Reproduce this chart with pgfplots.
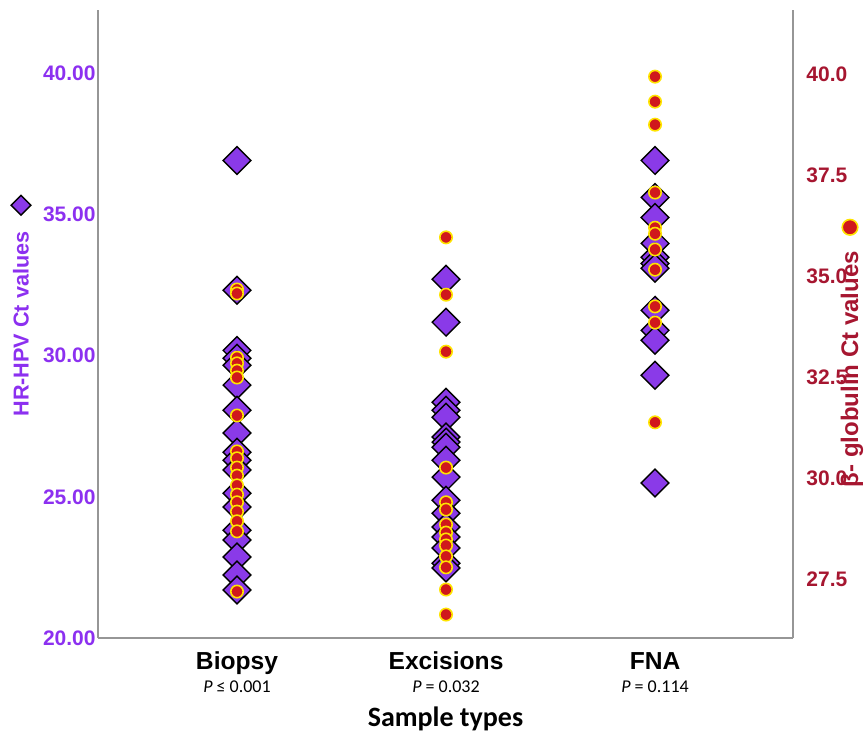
\documentclass[border=0pt]{standalone}
\usepackage{pgfplots}
\pgfplotsset{compat=1.18}
\usepackage{fontspec}
\setmainfont{Liberation Sans}
\newfontfamily\carlito{Carlito}

\definecolor{hpv}{RGB}{138,58,232}
\definecolor{hpvtxt}{RGB}{140,48,240}
\definecolor{glob}{RGB}{166,22,48}
\definecolor{dotred}{RGB}{208,24,28}
\definecolor{dotyel}{RGB}{255,228,0}
\definecolor{axgray}{RGB}{150,150,150}

\pgfplotsset{
  common/.style={
    at={(0,0)}, anchor=south west,
    scale only axis, width=347.5bp, height=314bp,
    xmin=0.335, xmax=3.66, clip=false,
    major tick length=0pt,
    axis line style={axgray, line width=0.6bp, -},
    legend style={draw=none, fill=none, inner sep=0pt, nodes={inner sep=0pt}},
  },
}

\begin{document}
\begin{tikzpicture}
\useasboundingbox (-49bp,-49bp) rectangle (383bp,319bp);

% HR-HPV (left axis)
\begin{axis}[common,
  ymin=20, ymax=42.25,
  axis x line*=bottom, axis y line*=left,
  xtick=\empty, ytick={20,25,30,35,40},
  yticklabel style={font=\fontsize{10.5bp}{12bp}\selectfont\bfseries, text=hpvtxt, inner xsep=1bp,
    /pgf/number format/fixed, /pgf/number format/fixed zerofill,
    /pgf/number format/precision=2, /pgf/number format/assume math mode=true},
  legend style={at={(0,0.689)}, anchor=center, xshift=-38bp},
  legend image code/.code={\draw[#1, mark size=3.5bp] plot coordinates {(0bp,0bp)};},
]
\addplot[only marks, mark=square*, mark size=4.9bp,
  mark options={rotate=45, fill=hpv, draw=black, line width=0.7bp}] coordinates {
  (1,36.92) (1,32.32) (1,30.19) (1,29.91) (1,29.66) (1,28.96) (1,28.07) (1,27.26)
  (1,26.58) (1,26.30) (1,25.95) (1,25.13) (1,24.64) (1,23.82) (1,23.47) (1,22.87)
  (1,22.23) (1,21.70)
  (2,32.71) (2,31.19) (2,28.35) (2,28.07) (2,27.82) (2,27.12) (2,26.94) (2,26.76)
  (2,26.30) (2,25.70) (2,24.88) (2,24.42) (2,23.93) (2,23.58) (2,23.19) (2,22.65)
  (2,22.48)
  (3,36.92) (3,35.61) (3,34.90) (3,33.98) (3,33.49) (3,33.27) (3,33.10) (3,31.61)
  (3,30.90) (3,30.55) (3,29.31) (3,25.49)
};
\addlegendentry{}

\node[xshift=-38.5bp, rotate=90, text=hpvtxt, font=\fontsize{10.8bp}{12bp}\selectfont\bfseries]
  at (rel axis cs:0,0.5) {HR-HPV Ct values};

\node[anchor=base, font=\fontsize{12.3bp}{14bp}\selectfont\bfseries] at (axis cs:1,20) [yshift=-15.5bp] {Biopsy};
\node[anchor=base, font=\fontsize{12.3bp}{14bp}\selectfont\bfseries] at (axis cs:2,20) [yshift=-15.5bp] {Excisions};
\node[anchor=base, font=\fontsize{12.3bp}{14bp}\selectfont\bfseries] at (axis cs:3,20) [yshift=-15.5bp] {FNA};
\node[anchor=base, font=\fontsize{9bp}{10bp}\carlito] at (axis cs:1,20) [yshift=-27bp] {\textit{P} ≤ 0.001};
\node[anchor=base, font=\fontsize{9bp}{10bp}\carlito] at (axis cs:2,20) [yshift=-27bp] {\textit{P} = 0.032};
\node[anchor=base, font=\fontsize{9bp}{10bp}\carlito] at (axis cs:3,20) [yshift=-27bp] {\textit{P} = 0.114};
\node[anchor=base, font=\fontsize{14bp}{16bp}\carlito\bfseries] at (rel axis cs:0.5,0) [yshift=-44bp] {Sample types};
\end{axis}

% beta-globulin (right axis)
\begin{axis}[common,
  ymin=26.05, ymax=41.6,
  axis x line=none, axis y line*=right,
  ytick={27.5,30,32.5,35,37.5,40},
  yticklabel style={font=\fontsize{10.5bp}{12bp}\selectfont\bfseries, text=glob, inner xsep=0pt, xshift=6.5bp,
    /pgf/number format/fixed, /pgf/number format/fixed zerofill,
    /pgf/number format/precision=1, /pgf/number format/assume math mode=true},
  legend style={at={(1,0.654)}, anchor=center, xshift=29bp},
  legend image code/.code={\draw[#1, mark size=3.9bp] plot coordinates {(0bp,0bp)};},
]
\addplot[only marks, mark=*, mark size=3.1bp,
  mark options={fill=dotred, draw=dotyel, line width=0.8bp}] coordinates {
  (1,34.68) (1,34.58) (1,32.99) (1,32.85) (1,32.67) (1,32.50) (1,31.56) (1,30.67)
  (1,30.50) (1,30.27) (1,30.07) (1,29.83) (1,29.60) (1,29.41) (1,29.18) (1,28.94)
  (1,28.69) (1,27.20)
  (2,35.97) (2,34.55) (2,33.14) (2,30.27) (2,29.41) (2,29.23) (2,28.86) (2,28.66)
  (2,28.49) (2,28.34) (2,28.07) (2,27.80) (2,27.25) (2,26.63)
  (3,39.95) (3,39.33) (3,38.76) (3,37.08) (3,36.21) (3,36.06) (3,35.67) (3,35.17)
  (3,34.26) (3,33.86) (3,31.39)
};
\addlegendentry{}

\node[xshift=29.5bp, rotate=90, text=glob, font=\fontsize{12bp}{14bp}\selectfont\bfseries]
  at (rel axis cs:1,0.428) {β- globulin Ct values};
\end{axis}
\end{tikzpicture}
\end{document}
